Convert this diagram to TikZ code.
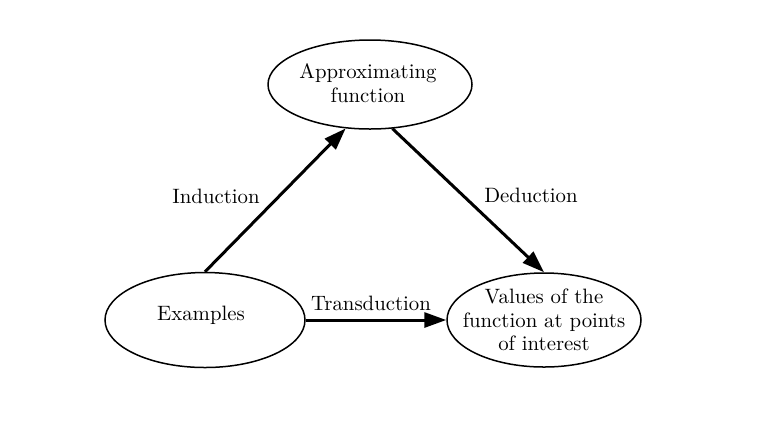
\documentclass[tikz,border=0pt]{standalone}
\usetikzlibrary{shapes.geometric,arrows.meta}
\begin{document}
\begin{tikzpicture}[x=0.5pt,y=-0.5pt,
  ell/.style={draw,ellipse,line width=0.75pt,inner sep=0pt},
  lbl/.style={align=center,inner sep=0pt,font=\fontsize{10.4}{11.7}\selectfont},
  arr/.style={line width=1.5pt,-{Triangle[length=11pt,width=7.5pt]}}]
\useasboundingbox (0,0) rectangle (764,425);
\node[ell,minimum width=102pt,minimum height=44.5pt] (af) at (370,84.5) {};
\node[ell,minimum width=100pt,minimum height=47.5pt] (ex) at (205,320) {};
\node[ell,minimum width=97pt,minimum height=47pt] (vf) at (544,320) {};
\node[lbl] (aft) at (368,83) {Approximating\\function};
\node[lbl] (ext) at (201,315) {Examples};
\node[lbl] (vft) at (544,320) {Values of the\\function at points\\of interest};
\draw[arr] (ex.north) -- (af.241.7);
\draw[arr] (af.297.9) -- (vf.north);
\draw[arr] (ex.east) -- (vf.west);
\node[lbl] (ind) at (216,196) {Induction};
\node[lbl] (ded) at (531,195) {Deduction};
\node[lbl] (tra) at (371,303) {Transduction};
\end{tikzpicture}
\end{document}
